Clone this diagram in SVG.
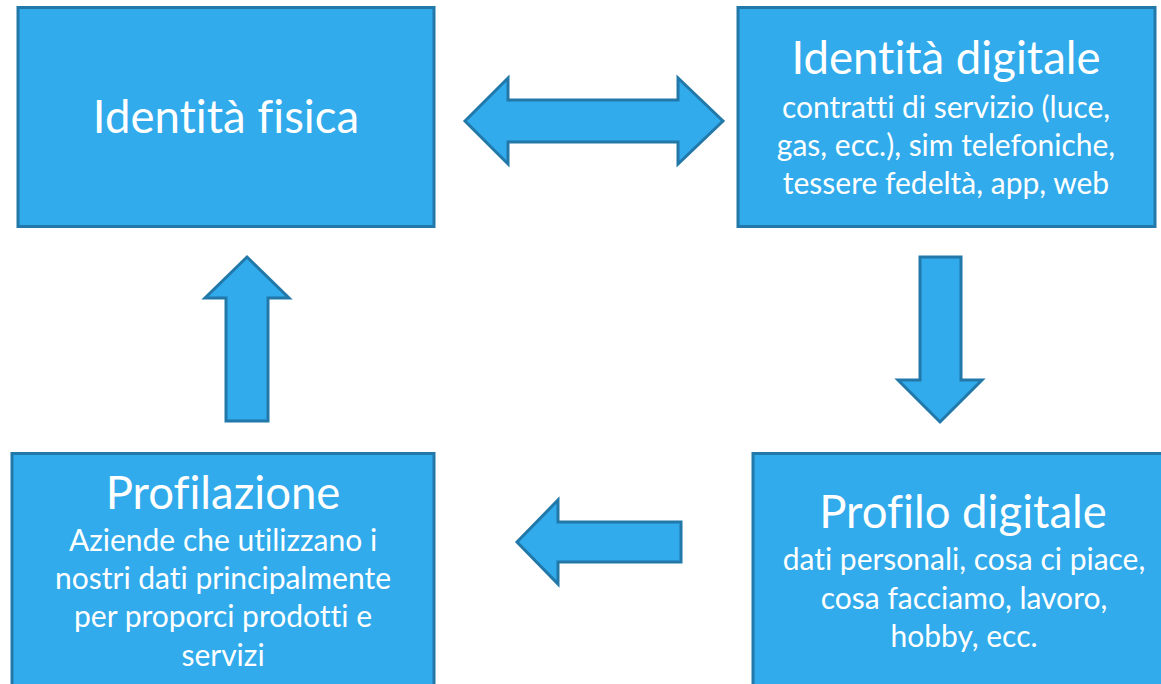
<svg xmlns="http://www.w3.org/2000/svg" width="1161" height="684" viewBox="0 0 1161 684">
<style>
.box{fill:#31abeb;stroke:#2278a9;stroke-width:3}
.arr{fill:#31abeb;stroke:#2278a9;stroke-width:3;stroke-linejoin:miter}
text{font-family:Lato,"Open Sans","Liberation Sans",sans-serif;fill:#ffffff;text-anchor:middle;font-variant-ligatures:none;font-feature-settings:"liga" 0}
.t{font-size:45.5px}
.s{font-size:30px}
</style>
<rect width="1161" height="684" fill="#ffffff"/>
<g id="connectors">
<polygon class="arr" points="465,121 508,78 508,100 678,100 678,78 723,121 678,164 678,142 508,142 508,164"/>
<polygon class="arr" points="920,257 961,257 961,380 982,380 940,422 898,380 920,380"/>
<polygon class="arr" points="517,542 558,500 558,522 681,522 681,562 558,562 558,584"/>
<polygon class="arr" points="247,257 289,298 268,298 268,421 226,421 226,298 205,298"/>
</g>
<g id="identita-fisica">
<rect class="box" x="18" y="7.5" width="416" height="219"/>
<text class="t" x="226" y="133">Identità fisica</text>
</g>
<g id="identita-digitale">
<rect class="box" x="738" y="7.5" width="417" height="219"/>
<text class="t" x="946" y="74">Identità digitale</text>
<text class="s" x="946" y="118">contratti di servizio (luce,</text>
<text class="s" x="946" y="156">gas, ecc.), sim telefoniche,</text>
<text class="s" x="946" y="194">tessere fedeltà, app, web</text>
</g>
<g id="profilazione">
<rect class="box" x="12" y="453.5" width="422" height="240"/>
<text class="t" x="223" y="509">Profilazione</text>
<text class="s" x="223" y="551">Aziende che utilizzano i</text>
<text class="s" x="223" y="589">nostri dati principalmente</text>
<text class="s" x="223" y="627">per proporci prodotti e</text>
<text class="s" x="223" y="666">servizi</text>
</g>
<g id="profilo-digitale">
<rect class="box" x="753" y="453.5" width="420" height="240"/>
<text class="t" x="963" y="528">Profilo digitale</text>
<text class="s" x="964" y="570">dati personali, cosa ci piace,</text>
<text class="s" x="964" y="609">cosa facciamo, lavoro,</text>
<text class="s" x="964" y="647">hobby, ecc.</text>
</g>
</svg>
